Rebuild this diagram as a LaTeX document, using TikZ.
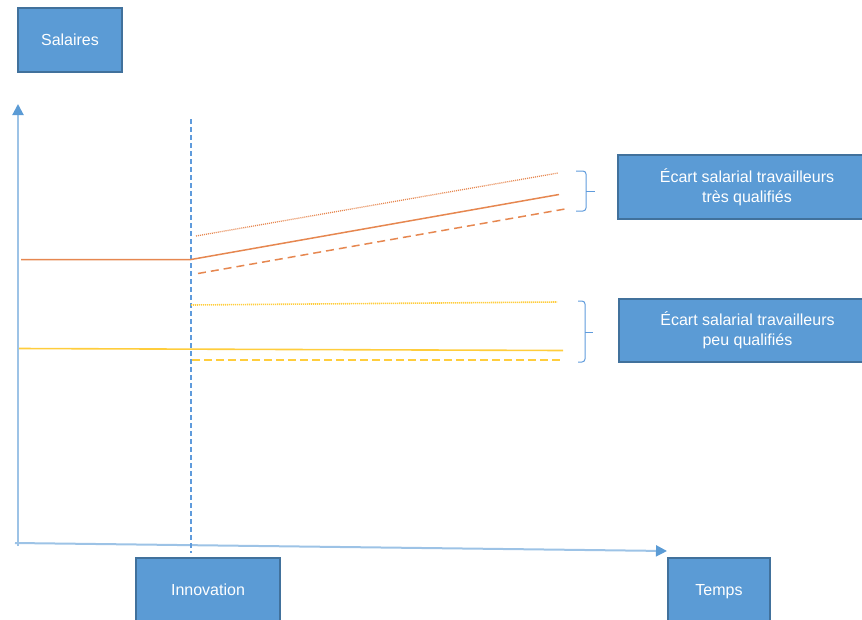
\documentclass[tikz,border=0pt]{standalone}
\usepackage{fontspec}
\setmainfont{Liberation Sans}
\usetikzlibrary{arrows.meta}
\definecolor{boxfill}{RGB}{91,155,213}
\definecolor{boxline}{RGB}{65,113,156}
\definecolor{axisblue}{RGB}{157,195,230}
\definecolor{innovblue}{RGB}{95,155,220}
\definecolor{orangeline}{RGB}{230,135,80}
\definecolor{yellowline}{RGB}{255,205,60}
\begin{document}
\begin{tikzpicture}[x=1pt,y=-1pt,
  labelbox/.style={draw=boxline, line width=1.5pt, fill=boxfill, text=white,
    font=\fontsize{16}{20}\selectfont, align=center, inner sep=0pt,
    minimum height=64pt},
  oneline/.style={text height=12pt, text depth=0.5pt},
  axisline/.style={draw=axisblue, line width=2pt,
    -{Triangle[length=11pt,width=11pt,color=boxfill]}},
  innovline/.style={color=innovblue, line width=1.2pt, dash pattern=on 5pt off 3pt},
  orangesolid/.style={draw=orangeline, line width=1.5pt},
  orangedot/.style={draw=orangeline, line width=1.3pt, dash pattern=on 1pt off 1pt},
  orangedash/.style={draw=orangeline, line width=1.5pt, dash pattern=on 8pt off 5pt},
  yellowsolid/.style={draw=yellowline, line width=1.6pt},
  yellowdot/.style={draw=yellowline, line width=1.6pt, dash pattern=on 1.2pt off 0.8pt},
  yellowdash/.style={draw=yellowline, line width=1.6pt, dash pattern=on 8pt off 4pt},
  bracket/.style={draw=innovblue, line width=1pt, rounded corners=3pt}
]
\useasboundingbox (0,0) rectangle (862,619);

% label boxes
\node[labelbox, oneline, minimum width=104pt] (sal) at (70,40) {Salaires};
\node[labelbox, minimum width=258pt] (ecart1) at (747,187) {Écart salarial travailleurs\\très qualifiés};
\node[labelbox, minimum width=257pt, minimum height=63pt] (ecart2) at (747.5,330.5) {Écart salarial travailleurs\\peu qualifiés};
\node[labelbox, oneline, minimum width=144pt] (innov) at (208,590) {Innovation};
\node[labelbox, oneline, minimum width=102pt] (temps) at (719,590) {Temps};

% axes
\coordinate (ybot) at (18,546);
\coordinate (ytop) at (18,104);
\coordinate (xleft) at (15,543);
\coordinate (xright) at (667,551);
\draw[axisline] (ybot) -- (ytop);
\draw[axisline] (xleft) -- (xright);

% innovation line
\coordinate (itop) at (191,119);
\coordinate (ibot) at (191,553);
\draw[innovline] (itop) -- (ibot);

% orange (very qualified)
\coordinate (o0) at (21,259.5);
\coordinate (o1) at (191,259.5);
\coordinate (o2) at (559,194.5);
\coordinate (od1) at (196,236);
\coordinate (od2) at (558,173);
\coordinate (oa1) at (198,273.5);
\coordinate (oa2) at (565,209);
\draw[orangesolid] (o0) -- (o1) -- (o2);
\draw[orangedot] (od1) -- (od2);
\draw[orangedash] (oa1) -- (oa2);

% yellow (low qualified)
\coordinate (y0) at (19,348.5);
\coordinate (y1) at (563,350.5);
\coordinate (yd1) at (191,305);
\coordinate (yd2) at (557,302);
\coordinate (ya1) at (192,360);
\coordinate (ya2) at (560,360);
\draw[yellowsolid] (y0) -- (y1);
\draw[yellowdot] (yd1) -- (yd2);
\draw[yellowdash] (ya1) -- (ya2);

% brackets
\coordinate (b1t) at (576,171);
\coordinate (b1m) at (586,191);
\coordinate (b1p) at (595,191);
\coordinate (b1b) at (576,211);
\draw[bracket] (b1t) -| (b1m) |- (b1b);
\draw[innovblue, line width=1pt] (b1m) -- (b1p);

\coordinate (b2t) at (578,301);
\coordinate (b2m) at (585,332);
\coordinate (b2p) at (593,332);
\coordinate (b2b) at (578,362);
\draw[bracket] (b2t) -| (b2m) |- (b2b);
\draw[innovblue, line width=1pt] (b2m) -- (b2p);
\end{tikzpicture}
\end{document}
